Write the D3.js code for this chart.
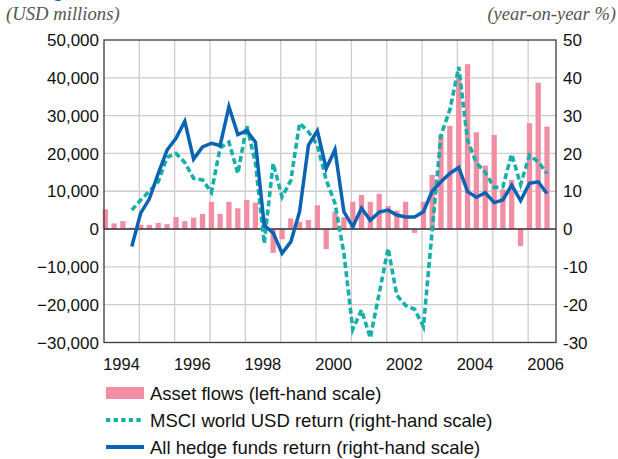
<!DOCTYPE html>
<html>
<head>
<meta charset="utf-8">
<script src="https://cdn.jsdelivr.net/npm/d3@7"></script>
<style>
  body { margin: 0; background: #fff; }
  svg { display: block; }
  text { font-family: "Liberation Sans", Arial, sans-serif; }
</style>
</head>
<body>
<div id="chart"></div>
<script>
// quarters shown (bars are dated mid-month of the first month of each quarter)
let quarters = [
    "1994Q1", "1994Q2", "1994Q3", "1994Q4", "1995Q1", "1995Q2", "1995Q3", "1995Q4",
    "1996Q1", "1996Q2", "1996Q3", "1996Q4", "1997Q1", "1997Q2", "1997Q3", "1997Q4",
    "1998Q1", "1998Q2", "1998Q3", "1998Q4", "1999Q1", "1999Q2", "1999Q3", "1999Q4",
    "2000Q1", "2000Q2", "2000Q3", "2000Q4", "2001Q1", "2001Q2", "2001Q3", "2001Q4",
    "2002Q1", "2002Q2", "2002Q3", "2002Q4", "2003Q1", "2003Q2", "2003Q3", "2003Q4",
    "2004Q1", "2004Q2", "2004Q3", "2004Q4", "2005Q1", "2005Q2", "2005Q3", "2005Q4",
    "2006Q1", "2006Q2", "2006Q3"];

// asset flows, USD millions (left-hand scale)
let assetFlows = [
    5200, 1500, 2100, 400, 1100, 1100, 1600, 1300,
    3200, 2100, 3000, 4000, 7200, 4000, 7200, 5500,
    7700, 7000, 3000, -6300, -2700, 2800, 1900, 2400,
    6300, -5300, 4600, 3100, 7200, 9000, 7200, 9300,
    6100, 4900, 7200, -1000, 7200, 14300, 24900, 27300,
    40000, 43600, 25600, 16800, 24900, 10500, 13000, -4500,
    28000, 38700, 27100];

// MSCI world USD return, year-on-year % (right-hand scale)
let msciReturn = [
    null, null, null, 5, 7.7, 10, 12.5, 19,
    20, 17.6, 13.4, 13, 9.7, 21.5, 23, 14.7,
    27.3, 17.5, -3.8, 17.4, 8.5, 12.8, 28, 25.7,
    22.2, 13, 6.8, -6.4, -26.5, -21.4, -28.8, -17,
    -5.1, -17.5, -20.2, -21.2, -25.8, -0.5, 24.8, 31.5,
    42.9, 23.5, 17.5, 15, 11, 11.2, 19.8, 11.8,
    19.5, 17.8, 14.7];

// all hedge funds return, year-on-year % (right-hand scale)
let hedgeReturn = [
    null, null, null, -4.6, 4.2, 8, 14.7, 20.9,
    24, 28.5, 18.5, 21.7, 22.7, 22.1, 32.4, 25,
    26, 23, 1, -1, -6.4, -3.4, 4.6, 22.2,
    26, 16, 21, 4.6, 0.6, 5.5, 2.3, 4.5,
    5, 3.7, 3.2, 3.2, 4.6, 10, 12.5, 14.7,
    16.3, 9.9, 8.4, 9.6, 7, 7.7, 11.6, 7.5,
    12.1, 12.5, 9.4];

let leftTicks = [-30000, -20000, -10000, 0, 10000, 20000, 30000, 40000, 50000];
let rightTicks = [-30, -20, -10, 0, 10, 20, 30, 40, 50];
let yearLabels = [1994, 1996, 1998, 2000, 2002, 2004, 2006];
let gridYears = d3.range(1995, 2007);

let legendItems = [
    {label: "Asset flows (left-hand scale)", type: "bar"},
    {label: "MSCI world USD return (right-hand scale)", type: "dash"},
    {label: "All hedge funds return (right-hand scale)", type: "line"}];

let pink = "#f28ea4", teal = "#16afa9", blue = "#0b63b3";

let margin = {top: 40, left: 104},
    width = 452,
    height = 302.5;

let svg = d3.select("#chart").append("svg")
    .attr("width", 618)
    .attr("height", 459);

function qDate(q) {
    return new Date(+q.slice(0, 4), (+q.slice(5) - 1) * 3, 15);
}

let x = d3.scaleTime()
    .domain([new Date(1994, 0, 1), new Date(2006, 9, 16)])
    .range([0, width]);
let yL = d3.scaleLinear().domain([-30000, 50000]).range([height, 0]);
let yR = d3.scaleLinear().domain([-30, 50]).range([height, 0]);

let g = svg.append("g").attr("transform", "translate(" + margin.left + "," + margin.top + ")");

// cut-off title descender at the very top
svg.append("text")
    .attr("x", 52).attr("y", -3)
    .style("font-size", "20px").style("font-weight", "bold")
    .attr("fill", blue)
    .text("g");

// unit captions
svg.append("text")
    .attr("x", 6).attr("y", 20)
    .style("font-family", "'Liberation Serif', serif")
    .style("font-style", "italic").style("font-size", "18.7px")
    .attr("fill", "#555")
    .text("(USD millions)");
svg.append("text")
    .attr("x", 616).attr("y", 20)
    .attr("text-anchor", "end")
    .style("font-family", "'Liberation Serif', serif")
    .style("font-style", "italic").style("font-size", "18.5px")
    .attr("fill", "#555")
    .text("(year-on-year %)");

// grid
g.selectAll(".hgrid").data(leftTicks.slice(1, -1)).enter().append("line")
    .attr("x1", 0).attr("x2", width)
    .attr("y1", d => yL(d)).attr("y2", d => yL(d))
    .attr("stroke", "#cdcdcd").attr("stroke-width", 1.3);
g.selectAll(".vgrid").data(gridYears).enter().append("line")
    .attr("x1", d => x(new Date(d, 0, 1))).attr("x2", d => x(new Date(d, 0, 1)))
    .attr("y1", 0).attr("y2", height)
    .attr("stroke", "#cdcdcd").attr("stroke-width", 1.3);

// bars
let barW = 5.3;
g.selectAll(".bar").data(quarters).enter().append("rect")
    .attr("x", d => x(qDate(d)) - barW / 2)
    .attr("width", barW)
    .attr("y", (d, i) => yL(Math.max(0, assetFlows[i])))
    .attr("height", (d, i) => Math.abs(yL(assetFlows[i]) - yL(0)))
    .attr("fill", pink);

// zero line
g.append("line")
    .attr("x1", 0).attr("x2", width)
    .attr("y1", yL(0)).attr("y2", yL(0))
    .attr("stroke", "#3a3333").attr("stroke-width", 1.5);

// frame
g.append("rect")
    .attr("width", width).attr("height", height)
    .attr("fill", "none").attr("stroke", "#3a3a3a").attr("stroke-width", 1.3);

// lines
let line = d3.line()
    .defined(d => d[1] != null)
    .x(d => x(qDate(d[0])))
    .y(d => yR(d[1]));

g.append("path")
    .datum(d3.zip(quarters, msciReturn))
    .attr("d", line)
    .attr("fill", "none").attr("stroke", teal)
    .attr("stroke-width", 3.6).attr("stroke-dasharray", "6,3.2");

g.append("path")
    .datum(d3.zip(quarters, hedgeReturn))
    .attr("d", line)
    .attr("fill", "none").attr("stroke", blue)
    .attr("stroke-width", 3.5).attr("stroke-linejoin", "miter");

// axis labels
g.selectAll(".lt").data(leftTicks).enter().append("text")
    .attr("x", -5).attr("y", d => yL(d)).attr("dy", "0.36em")
    .attr("text-anchor", "end")
    .style("font-size", "17px").attr("fill", "#111")
    .text(d => d3.format(",")(d));
g.selectAll(".rt").data(rightTicks).enter().append("text")
    .attr("x", width + 7).attr("y", d => yR(d)).attr("dy", "0.36em")
    .style("font-size", "17px").attr("fill", "#111")
    .text(d => d);
g.selectAll(".xt").data(yearLabels).enter().append("text")
    .attr("x", d => x(new Date(d, 6, 1)))
    .attr("y", height + 27)
    .attr("text-anchor", "middle")
    .style("font-size", "16.5px").attr("fill", "#111")
    .text(d => d);

// legend
let leg = svg.append("g").attr("transform", "translate(106,393)");
let rows = leg.selectAll("g").data(legendItems).enter().append("g")
    .attr("transform", (d, i) => "translate(0," + (i * 27) + ")");
rows.each(function (d) {
    let r = d3.select(this);
    if (d.type === "bar") {
        r.append("rect").attr("x", 0).attr("y", -6).attr("width", 38).attr("height", 12).attr("fill", pink);
    } else {
        r.append("line").attr("x1", 0).attr("x2", 38).attr("y1", 0).attr("y2", 0)
            .attr("stroke", d.type === "dash" ? teal : blue)
            .attr("stroke-width", 4)
            .attr("stroke-dasharray", d.type === "dash" ? "4.3,3.3" : null);
    }
});
rows.append("text")
    .attr("x", 44).attr("y", 0).attr("dy", "0.36em")
    .style("font-size", "18.5px").attr("fill", "#111")
    .text(d => d.label);
</script>
</body>
</html>
